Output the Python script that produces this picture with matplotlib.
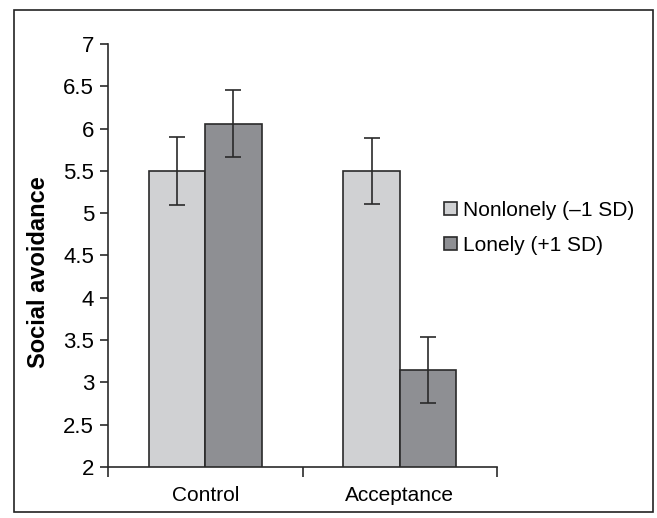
import matplotlib
matplotlib.use("Agg")
import matplotlib.pyplot as plt
import numpy as np
from matplotlib.patches import Rectangle

categories = ["Control", "Acceptance"]
series_names = ["Nonlonely (\u20131 SD)", "Lonely (+1 SD)"]
nonlonely = [5.50, 5.50]
lonely = [6.06, 3.15]
nonlonely_err = [0.40, 0.39]
lonely_err = [0.40, 0.39]
yticks = [2, 2.5, 3, 3.5, 4, 4.5, 5, 5.5, 6, 6.5, 7]

plt.rcParams['font.family'] = ['Liberation Sans', 'DejaVu Sans']

fig = plt.figure(figsize=(6.57, 5.18), dpi=100)
ax = fig.add_axes([108/657, 1-467/518, (497-108)/657, (467-44)/518])

x = np.arange(len(categories))
w = 0.29
colors = ["#d0d1d3", "#8e8f93"]
ax.bar(x - w/2, nonlonely, w, bottom=0, color=colors[0], edgecolor="#2a2a2a", linewidth=1.2,
       yerr=nonlonely_err, error_kw=dict(ecolor="#2a2a2a", elinewidth=1.2, capsize=6, capthick=1.2),
       label=series_names[0])
ax.bar(x + w/2, lonely, w, bottom=0, color=colors[1], edgecolor="#2a2a2a", linewidth=1.2,
       yerr=lonely_err, error_kw=dict(ecolor="#2a2a2a", elinewidth=1.2, capsize=6, capthick=1.2),
       label=series_names[1])

ax.set_ylim(2, 7)
ax.set_xlim(-0.5, 1.5)
ax.set_yticks(yticks)
ax.set_yticklabels([f"{t:g}" for t in yticks], fontsize=16)
ax.set_xticks([-0.5, 0.5, 1.5])
ax.set_xticklabels([])
ax.set_xticks(x, minor=True)
ax.set_xticklabels(categories, minor=True, fontsize=15)
ax.tick_params(axis='x', which='minor', length=0, pad=14)
ax.tick_params(axis='x', which='major', length=7, width=1.2, color="#2a2a2a", direction='out')
ax.tick_params(axis='y', length=6, width=1.2, color="#2a2a2a", direction='out', pad=4)
for s in ['top', 'right']:
    ax.spines[s].set_visible(False)
for s in ['left', 'bottom']:
    ax.spines[s].set_linewidth(1.2)
    ax.spines[s].set_color("#2a2a2a")

fig.text(39/657, 1-272/518, "Social avoidance", rotation=90, fontsize=17, fontweight='bold',
         ha='center', va='center')

leg = fig.legend(loc='center left', bbox_to_anchor=(434/657, 1-228/518), frameon=False,
                 fontsize=15, handlelength=0.6, handleheight=0.6, handletextpad=0.3,
                 labelspacing=0.75, borderpad=0)

fig.add_artist(Rectangle((14/657, 1-512/518), (653-14)/657, (512-10)/518,
                         transform=fig.transFigure, fill=False, edgecolor="#222222", linewidth=1.2))

fig.savefig("out.png", dpi=100)
